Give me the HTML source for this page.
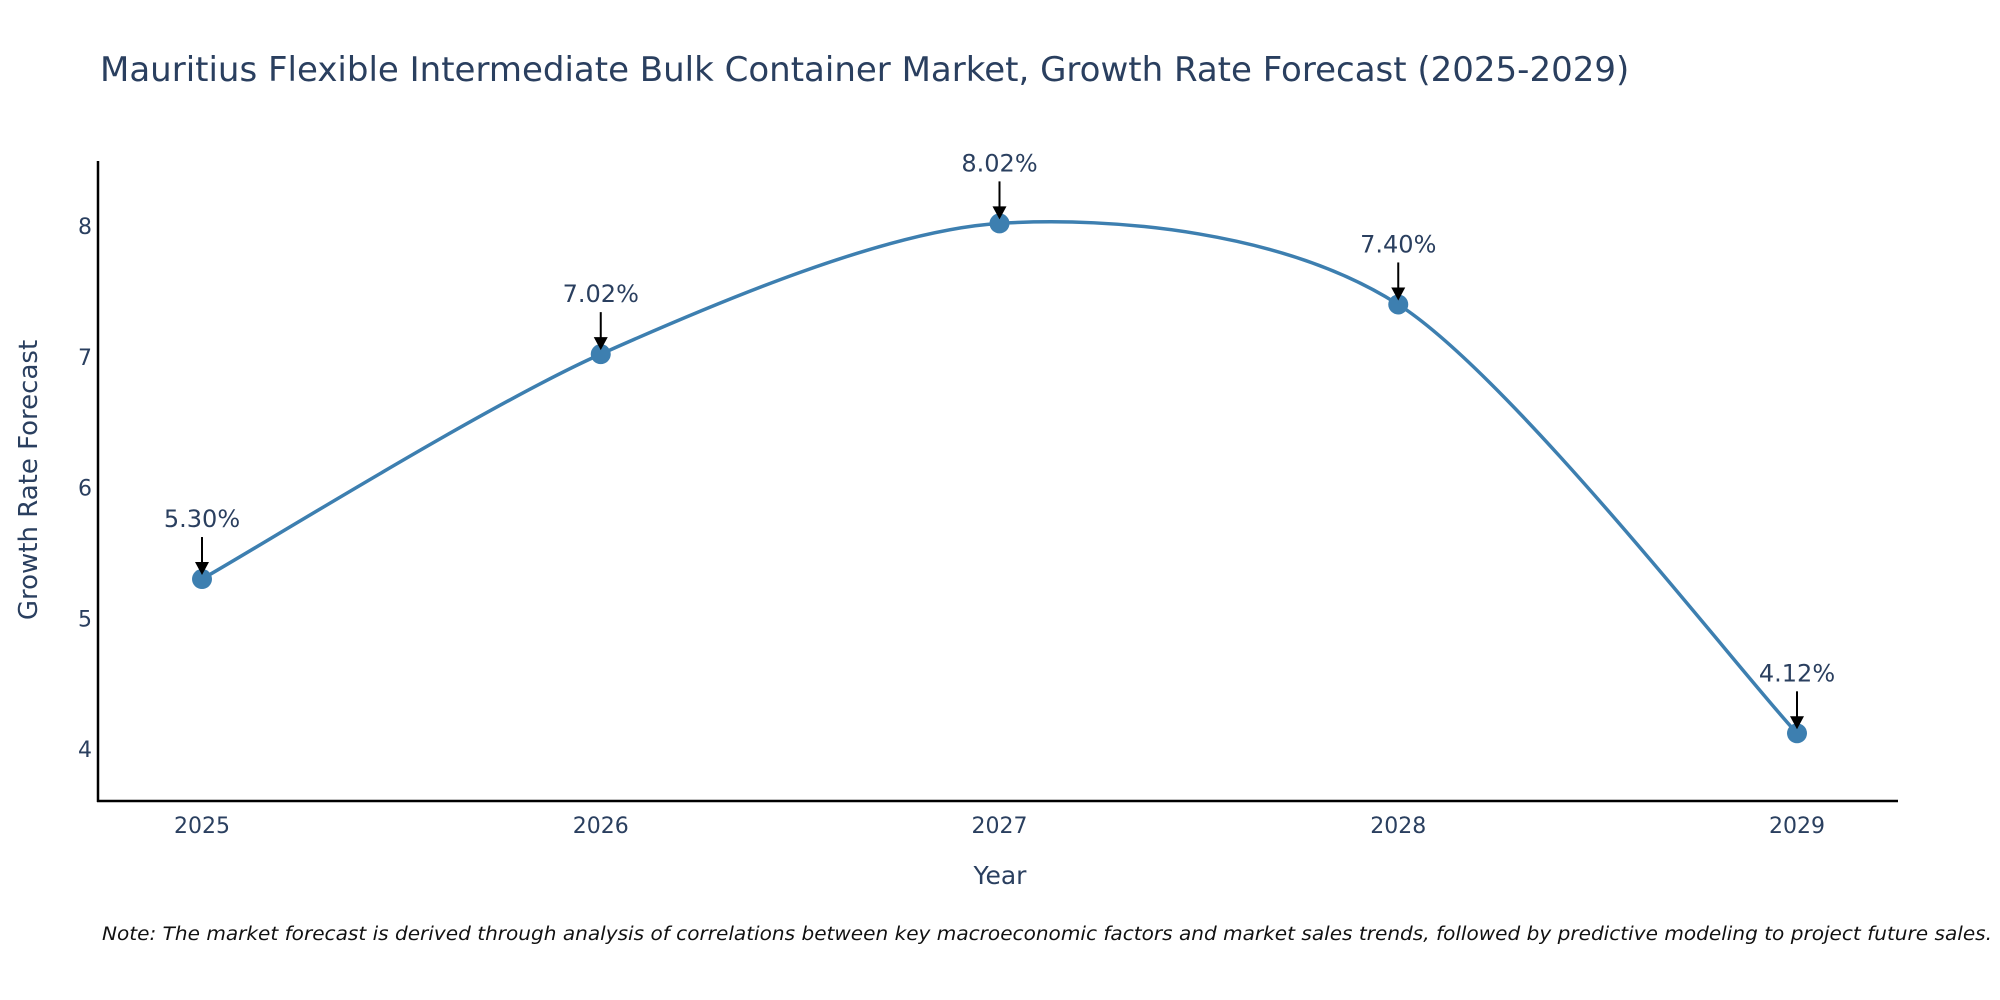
<!DOCTYPE html>
<html><head><meta charset="utf-8"><style>
body{margin:0;background:#fff;}
svg{display:block;font-family:"DejaVu Sans","Liberation Sans",sans-serif;}
</style></head><body>
<svg id="chart" width="2000" height="1000" viewBox="0 0 2000 1000">
<text x="100" y="81" font-size="34" fill="#2a3f5f">Mauritius Flexible Intermediate Bulk Container Market, Growth Rate Forecast (2025-2029)</text>
<g id="axes"></g>
<g id="series"></g>
<g id="annots"></g>
<text x="1000" y="884" font-size="25" fill="#2a3f5f" text-anchor="middle">Year</text>
<text transform="translate(37,480) rotate(-90)" font-size="26" fill="#2a3f5f" text-anchor="middle">Growth Rate Forecast</text>
<text x="1992" y="940" font-size="18.5" font-style="italic" fill="#111" text-anchor="end" textLength="1890" lengthAdjust="spacingAndGlyphs">Note: The market forecast is derived through analysis of correlations between key macroeconomic factors and market sales trends, followed by predictive modeling to project future sales.</text>
</svg>
<script>
const years = [2025, 2026, 2027, 2028, 2029];
const growth = [5.30, 7.02, 8.02, 7.40, 4.12];
const yTicks = [4, 5, 6, 7, 8];
const NS = "http://www.w3.org/2000/svg";
const X0 = 202, X1 = 1797, Y4 = 749, Y8 = 226;
function xs(v){ return X0 + (v - years[0]) / (years[years.length-1] - years[0]) * (X1 - X0); }
function ys(v){ return Y4 + (v - 4) / 4 * (Y8 - Y4); }
function mk(tag, attrs, parent){ const e = document.createElementNS(NS, tag); for (const k in attrs) e.setAttribute(k, attrs[k]); parent.appendChild(e); return e; }
const axes = document.getElementById('axes');
let a = mk('line', {x1:98, y1:161, x2:98, y2:802, stroke:'#000', 'stroke-width':2.5}, axes);


a = mk('line', {x1:97, y1:801, x2:1898, y2:801, stroke:'#000', 'stroke-width':2.5}, axes);


yTicks.forEach(t => {
  const e = mk('text', {x:92, y:ys(t)+8, 'font-size':22, fill:'#2a3f5f', 'text-anchor':'end'}, axes);
  e.textContent = t;
  
  
});
years.forEach(t => {
  const e = mk('text', {x:xs(t), y:833, 'font-size':22, fill:'#2a3f5f', 'text-anchor':'middle'}, axes);
  e.textContent = t;
  
  
});
const pts = years.map((y, i) => [xs(y), ys(growth[i])]);
let d = 'M' + pts[0][0] + ',' + pts[0][1];
const k = 1/7;
for (let i = 0; i < pts.length - 1; i++) {
  const p0 = pts[Math.max(0, i-1)], p1 = pts[i], p2 = pts[i+1], p3 = pts[Math.min(pts.length-1, i+2)];
  const c1 = [p1[0] + (p2[0]-p0[0])*k, p1[1] + (p2[1]-p0[1])*k];
  const c2 = [p2[0] - (p3[0]-p1[0])*k, p2[1] - (p3[1]-p1[1])*k];
  d += ' C' + c1 + ' ' + c2 + ' ' + p2;
}
const series = document.getElementById('series');
const line = mk('path', {d:d, fill:'none', stroke:'#3d7fb0', 'stroke-width':3.5}, series);


const ann = document.getElementById('annots');
pts.forEach((p, i) => {
  const c = mk('circle', {cx:p[0], cy:p[1], r:10, fill:'#3d7fb0'}, series);
  
  
  const l = mk('line', {x1:p[0], y1:p[1]-42, x2:p[0], y2:p[1]-14, stroke:'#000', 'stroke-width':2}, ann);
  
  
  const h = mk('path', {d:'M'+(p[0]-7)+','+(p[1]-17)+' L'+(p[0]+7)+','+(p[1]-17)+' L'+p[0]+','+(p[1]-4)+' Z', fill:'#000'}, ann);
  
  
  const t = mk('text', {x:p[0], y:p[1]-52, 'font-size':24, fill:'#2a3f5f', 'text-anchor':'middle'}, ann);
  t.textContent = growth[i].toFixed(2) + '%';
  
  
});
</script>
</body></html>
